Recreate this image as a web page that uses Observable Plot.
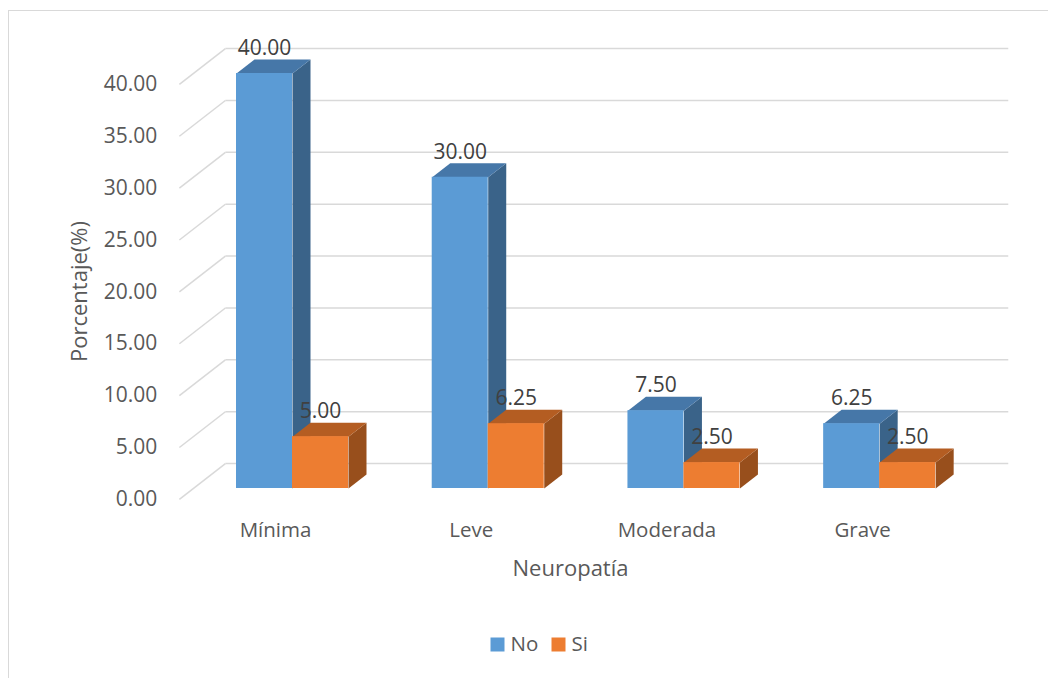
<!DOCTYPE html>
<html>
<head>
<meta charset="utf-8">
<script src="https://cdn.jsdelivr.net/npm/d3@7"></script>
<script src="https://cdn.jsdelivr.net/npm/@observablehq/plot@0.6"></script>
<style>
  body { margin: 0; background: #ffffff; }
  #chart { position: relative; width: 1048px; height: 678px; overflow: hidden; }
  #chart svg { display: block; }
  #border {
    position: absolute; left: 8px; top: 10px; right: -10px; bottom: -10px;
    border-top: 1.5px solid #d9d9d9; border-left: 1.5px solid #d9d9d9;
    pointer-events: none;
  }
</style>
</head>
<body>
<div id="chart"><div id="border"></div></div>
<script>
// Neuropatía por grupo, porcentaje (%)
const categories = ["Mínima", "Leve", "Moderada", "Grave"];
const series = ["No", "Si"];
const valuesNo = [40.00, 30.00, 7.50, 6.25];
const valuesSi = [5.00, 6.25, 2.50, 2.50];
const yTicks = [0, 5, 10, 15, 20, 25, 30, 35, 40];
const yTickLabels = yTicks.map(d3.format(".2f"));

// colours: front, top and side faces of each series
const frontColors = ["#5B9BD5", "#ED7D31"];
const topColors   = ["#4677A8", "#B45D22"];
const sideColors  = ["#3A6389", "#984F1C"];
const textColor = "#595959";
const gridColor = "#d9d9d9";

// scale layout (x in bar-width units, y in percent)
const xDomain = [0, 14], xRange = [236, 1020];
const yDomain = [0, 40], yRange = [488, 73];
const pxU = (xRange[1] - xRange[0]) / (xDomain[1] - xDomain[0]);
const pxV = (yRange[0] - yRange[1]) / (yDomain[1] - yDomain[0]);

// oblique projection: a depth of d pixels moves right by d and up by d * SLOPE
const SLOPE = 14 / 18;
const BAR_DEPTH = 18, WALL_DEPTH = 32, FRONT_DEPTH = -14;
const proj = (u, v, d) => ({x: u + d / pxU, y: v + d * SLOPE / pxV});
const GROUP = 3.495;             // distance between category groups
const WALL_X0 = -0.77, WALL_X1 = 13.21;

const bars = categories.flatMap((category, i) =>
  series.map((s, j) => {
    const value = j === 0 ? valuesNo[i] : valuesSi[i];
    const x1 = i * GROUP + j;
    return {id: `${category}-${s}`, category, series: s, si: j, value, x1, x2: x1 + 1};
  })
);

const sideFaces = bars.flatMap(b => [
  {id: b.id, si: b.si, ...proj(b.x2, 0, 0)},
  {id: b.id, si: b.si, ...proj(b.x2, b.value, 0)},
  {id: b.id, si: b.si, ...proj(b.x2, b.value, BAR_DEPTH)},
  {id: b.id, si: b.si, ...proj(b.x2, 0, BAR_DEPTH)}
]);
const topFaces = bars.flatMap(b => [
  {id: b.id, si: b.si, ...proj(b.x1, b.value, 0)},
  {id: b.id, si: b.si, ...proj(b.x2, b.value, 0)},
  {id: b.id, si: b.si, ...proj(b.x2, b.value, BAR_DEPTH)},
  {id: b.id, si: b.si, ...proj(b.x1, b.value, BAR_DEPTH)}
]);

const faceMarks = (faces, colors) => series.map((s, j) =>
  Plot.line(faces.filter(f => f.si === j), {
    x: "x", y: "y", z: "id", fill: colors[j], stroke: "none"
  })
);

const font = "'Open Sans', 'Noto Sans', sans-serif";

const plot = Plot.plot({
  width: 1048,
  height: 678,
  margin: 0,
  style: {fontFamily: font, background: "transparent", overflow: "visible"},
  x: {type: "linear", domain: xDomain, range: xRange, axis: null},
  y: {type: "linear", domain: yDomain, range: yRange, axis: null},
  color: {domain: series, range: frontColors},
  marks: [
    // back wall gridlines and the floor diagonals on the left
    Plot.link(yTicks, {
      x1: () => proj(WALL_X0, 0, FRONT_DEPTH).x,
      y1: d => proj(WALL_X0, d, FRONT_DEPTH).y,
      x2: () => proj(WALL_X0, 0, WALL_DEPTH).x,
      y2: d => proj(WALL_X0, d, WALL_DEPTH).y,
      stroke: gridColor, strokeWidth: 1.5
    }),
    Plot.link(yTicks, {
      x1: () => proj(WALL_X0, 0, WALL_DEPTH).x,
      y1: d => proj(WALL_X0, d, WALL_DEPTH).y,
      x2: () => proj(WALL_X1, 0, WALL_DEPTH).x,
      y2: d => proj(WALL_X1, d, WALL_DEPTH).y,
      stroke: gridColor, strokeWidth: 1.5
    }),
    // y tick labels on the front edge
    Plot.text(yTicks, {
      x: () => proj(WALL_X0, 0, FRONT_DEPTH).x,
      y: d => proj(WALL_X0, d, FRONT_DEPTH).y,
      text: (d, i) => yTickLabels[i],
      textAnchor: "end", dx: -22, fontSize: 21, fill: textColor
    }),
    // 3D bars: sides, tops, then front faces
    ...faceMarks(sideFaces, sideColors),
    ...faceMarks(topFaces, topColors),
    Plot.rect(bars, {x1: "x1", x2: "x2", y1: 0, y2: "value", fill: "series"}),
    // value labels
    Plot.text(bars, {
      x: b => b.x1 + 0.5,
      y: b => proj(b.x1, b.value, BAR_DEPTH).y,
      text: b => d3.format(".2f")(b.value),
      dy: -11, fontSize: 21, fill: "#404040"
    }),
    // category labels
    Plot.text(categories, {
      x: (d, i) => proj(i * GROUP + 1, 0, FRONT_DEPTH).x,
      y: () => proj(0, 0, FRONT_DEPTH).y,
      text: d => d,
      dy: 31, dx: -3, fontSize: 20.5, fill: textColor
    }),
    // axis titles
    Plot.text(["Neuropatía"], {
      frameAnchor: "top-left", dx: 570, dy: 568, text: d => d,
      textAnchor: "middle", lineAnchor: "middle", fontSize: 22, fill: textColor
    }),
    Plot.text(["Porcentaje(%)"], {
      frameAnchor: "top-left", dx: 79, dy: 291, text: d => d, rotate: -90,
      textAnchor: "middle", lineAnchor: "middle", fontSize: 22, fill: textColor
    }),
    // legend
    ...series.map((s, j) => Plot.dot([s], {
      frameAnchor: "top-left", dx: 497 + j * 61, dy: 644,
      symbol: "square", r: 7.9, fill: d => d, stroke: "none"
    })),
    ...series.map((s, j) => Plot.text([s], {
      frameAnchor: "top-left", dx: 510 + j * 61, dy: 644, text: d => d,
      textAnchor: "start", lineAnchor: "middle", fontSize: 20.5, fill: textColor
    }))
  ]
});

document.getElementById("chart").prepend(plot);
</script>
</body>
</html>
